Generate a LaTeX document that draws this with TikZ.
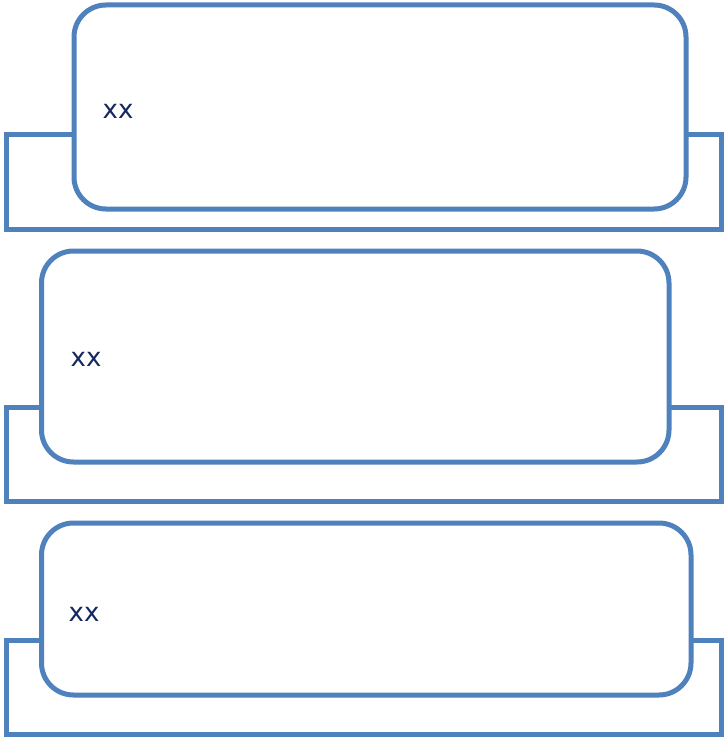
\documentclass[tikz,border=0pt]{standalone}
\usepackage{fontspec}
\setmainfont{DejaVu Sans}
\definecolor{edge}{HTML}{4F81BD}
\definecolor{label}{HTML}{14285F}
\begin{document}
\begin{tikzpicture}[x=1pt,y=-1pt,
  backbox/.style={draw=edge,line width=5pt,fill=white,rectangle,inner sep=0pt,outer sep=0pt,line join=miter},
  frontbox/.style={draw=edge,line width=5pt,fill=white,rectangle,rounded corners=32pt,inner sep=0pt,outer sep=0pt},
  lbl/.style={text=label,font=\fontsize{26}{26}\selectfont,inner sep=0pt,anchor=center}]
\useasboundingbox (0,0) rectangle (726,738);
% group 1
\node[backbox,minimum width=715pt,minimum height=94pt] (r1) at (363.5,182) {};
\node[frontbox,minimum width=612pt,minimum height=204pt] (b1) at (380,107) {};
\node[lbl] (t1) at (118,111) {xx};
% group 2
\node[backbox,minimum width=715pt,minimum height=94pt] (r2) at (363.5,454) {};
\node[frontbox,minimum width=627.5pt,minimum height=211pt] (b2) at (355.25,356.5) {};
\node[lbl] (t2) at (86,359) {xx};
% group 3
\node[backbox,minimum width=715pt,minimum height=94pt] (r3) at (363.5,687) {};
\node[frontbox,minimum width=649.5pt,minimum height=172pt] (b3) at (366.25,609) {};
\node[lbl] (t3) at (84,614) {xx};
\end{tikzpicture}
\end{document}
